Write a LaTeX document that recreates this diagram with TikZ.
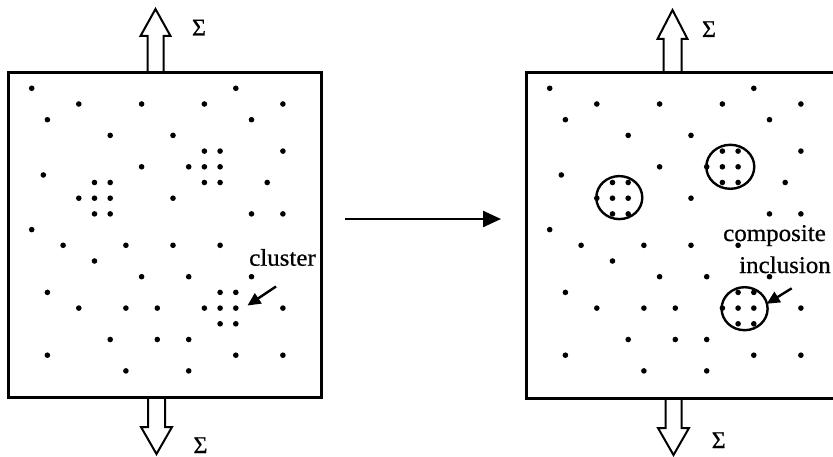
\documentclass[tikz,border=0pt]{standalone}
\usepackage{fontspec}
\setmainfont{Liberation Serif}
\newfontfamily\scanfont{Liberation Serif}[FakeBold=0.6]
\usetikzlibrary{arrows.meta}
\begin{document}
\begin{tikzpicture}[x=1pt,y=-1pt,
  boxline/.style={draw=black,line width=3pt,inner sep=0pt,outer sep=0pt,anchor=north west},
  blockarrow/.style={draw=black,fill=white,line width=2pt,line join=miter},
  dotmark/.style={fill=black},
  lbl/.style={font=\scanfont\fontsize{24}{28}\selectfont,inner sep=0pt,anchor=base},
  incl/.style={line width=2.4pt},
  pointer/.style={line width=2.4pt,-{Triangle[length=13pt,width=12pt]}},
  bigarrow/.style={line width=2.4pt,-{Triangle[length=18pt,width=16pt]}}]
\clip (0,0) rectangle (833,457);
\fill[white] (0,0) rectangle (833,457);
\def\dotlist{0/0,13/0,3/1,7/1,11/1,16/1,1/2,14/2,5/3,9/3,
  11/4,12/4,16/4,7/5,10/5,11/5,12/5,0.74/5.52,
  4/6,5/6,11/6,12/6,15/6,3/7,4/7,5/7,9/7,4/8,5/8,14/8,16/8,0/9,
  2/10,6/10,9/10,12/10,4/11,7/12,10/12,14/12,1/13,12/13,13/13,
  3/14,6/14,8/14,11/14,12/14,13/14,16/14,12/15,13/15,5/16,8/16,10/16,
  1/17,13/17,16/17,6/18,10/18}
% block arrows (load)
\filldraw[blockarrow] (147.5,73) -- (147.5,36) -- (140.5,36) -- (155.5,9) -- (170.5,36) -- (163.5,36) -- (163.5,73);
\filldraw[blockarrow] (148,397) -- (148,427) -- (141,427) -- (156.5,454) -- (172,427) -- (165,427) -- (165,397);
\filldraw[blockarrow] (663.5,73) -- (663.5,39) -- (657.5,39) -- (672.5,10) -- (687.5,39) -- (681.5,39) -- (681.5,73);
\filldraw[blockarrow] (665.5,398) -- (665.5,428) -- (658,428) -- (673.5,455) -- (689,428) -- (681.5,428) -- (681.5,398);
% boxes
\node[boxline,minimum width=312.5pt,minimum height=324.5pt] (L) at (8.5,73) {};
\node[boxline,minimum width=330pt,minimum height=325pt] (R) at (526,73) {};
% dots
\foreach \i/\j in \dotlist {
  \fill[dotmark] ({31.7+15.7*\i},{88.3+15.7*\j}) circle[radius=2.8pt];
  \fill[dotmark] ({549.7+15.7*\i},{88.3+15.7*\j}) circle[radius=2.8pt];
}
% composite inclusions
\draw[incl] (730.3,166.8) ellipse[x radius=24pt,y radius=22pt];
\draw[incl] (619.3,197.6) ellipse[x radius=23pt,y radius=21.5pt];
\draw[incl] (744.6,308.7) ellipse[x radius=23pt,y radius=21.5pt];
% sigma labels
\node[lbl] (s1) at (199,35.5) {Σ};
\node[lbl] (s2) at (200.5,453) {Σ};
\node[lbl] (s3) at (709,37) {Σ};
\node[lbl] (s4) at (718.7,448) {Σ};
% labels
\node[lbl] (clu) at (282.5,265.7) {\scalebox{1.04}[1]{cluster}};
\node[lbl] (comp) at (774.5,241) {\scalebox{1.04}[1]{composite}};
\node[lbl] (inc) at (785,273) {\scalebox{1.04}[1]{inclusion}};
% pointers
\coordinate (ca) at (276,286.5);
\coordinate (cb) at (247.5,305.5);
\draw[pointer] (ca) -- (cb);
\coordinate (pa) at (791.7,288.3);
\coordinate (pb) at (766.7,303.8);
\draw[pointer] (pa) -- (pb);
% transition arrow
\coordinate (m1) at (345,219);
\coordinate (m2) at (501,219);
\draw[bigarrow] (m1) -- (m2);
\end{tikzpicture}
\end{document}
